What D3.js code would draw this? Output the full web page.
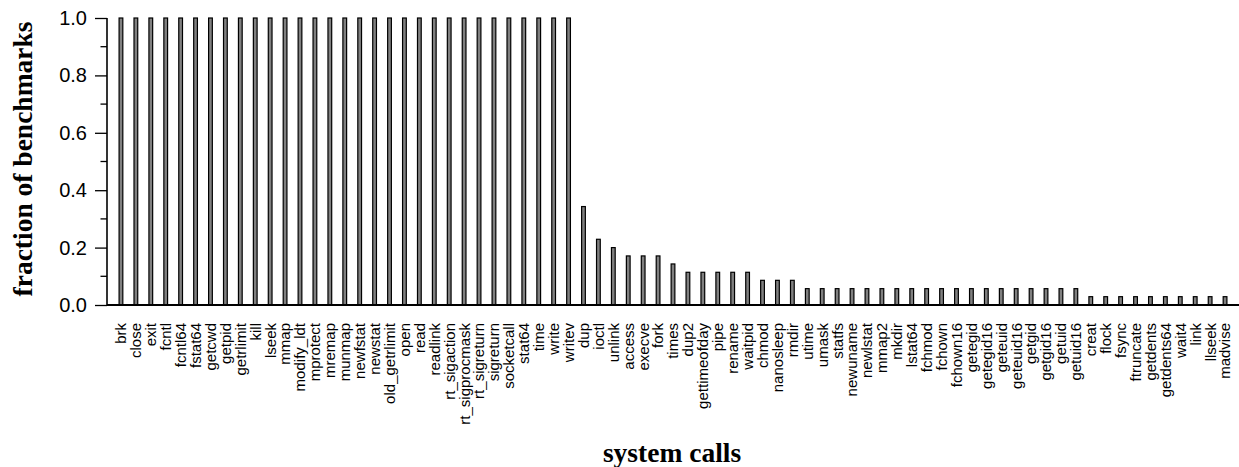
<!DOCTYPE html>
<html>
<head>
<meta charset="utf-8">
<script src="https://cdn.jsdelivr.net/npm/d3@7"></script>
<style>
  body { margin: 0; background: #fff; }
  svg { display: block; }
</style>
</head>
<body>
<svg id="chart" width="1239" height="467"></svg>
<script>

// system call names, in the order they are plotted
var calls = ["brk", "close", "exit", "fcntl", "fcntl64", "fstat64", "getcwd", "getpid",
  "getrlimit", "kill", "lseek", "mmap", "modify_ldt", "mprotect", "mremap", "munmap",
  "newfstat", "newstat", "old_getrlimit", "open", "read", "readlink", "rt_sigaction",
  "rt_sigprocmask", "rt_sigreturn", "sigreturn", "socketcall", "stat64", "time", "write",
  "writev", "dup", "ioctl", "unlink", "access", "execve", "fork", "times", "dup2",
  "gettimeofday", "pipe", "rename", "waitpid", "chmod", "nanosleep", "rmdir", "utime",
  "umask", "statfs", "newuname", "newlstat", "mmap2", "mkdir", "lstat64", "fchmod",
  "fchown", "fchown16", "getegid", "getegid16", "geteuid", "geteuid16", "getgid",
  "getgid16", "getuid", "getuid16", "creat", "flock", "fsync", "ftruncate", "getdents",
  "getdents64", "wait4", "link", "llseek", "madvise"];

// fraction of benchmarks using each call
var fractions = [1, 1, 1, 1, 1, 1, 1, 1, 1, 1, 1, 1, 1, 1, 1, 1,
  1, 1, 1, 1, 1, 1, 1, 1, 1, 1, 1, 1, 1, 1,
  1, 0.343, 0.229, 0.2, 0.171, 0.171, 0.171, 0.143, 0.114,
  0.114, 0.114, 0.114, 0.114, 0.086, 0.086, 0.086, 0.057,
  0.057, 0.057, 0.057, 0.057, 0.057, 0.057, 0.057, 0.057,
  0.057, 0.057, 0.057, 0.057, 0.057, 0.057, 0.057,
  0.057, 0.057, 0.057, 0.029, 0.029, 0.029, 0.029, 0.029,
  0.029, 0.029, 0.029, 0.029, 0.029];

var yMajorTicks = [0, 0.2, 0.4, 0.6, 0.8, 1.0];
var yMinorTicks = [0.1, 0.3, 0.5, 0.7, 0.9];

var data = calls.map(function(c, i) { return {call: c, frac: fractions[i]}; });

var svg = d3.select("#chart"),
    plotLeft = 107, plotRight = 1239, plotTop = 18, plotBottom = 305;

var x = d3.scaleBand()
    .domain(calls)
    .range([plotLeft, plotRight])
    .paddingInner(0.75)
    .paddingOuter(0.81);

var y = d3.scaleLinear()
    .domain([0, 1])
    .range([plotBottom, plotTop]);

// bars
svg.append("g")
  .selectAll("rect")
  .data(data)
  .enter().append("rect")
    .attr("x", function(d) { return x(d.call); })
    .attr("y", function(d) { return y(d.frac); })
    .attr("width", x.bandwidth())
    .attr("height", function(d) { return plotBottom - y(d.frac); })
    .attr("fill", "#808080")
    .attr("stroke", "#000")
    .attr("stroke-width", 1.2);

// y axis with major ticks + labels
var yAxis = svg.append("g")
    .attr("transform", "translate(" + plotLeft + ",0)")
    .call(d3.axisLeft(y)
      .tickValues(yMajorTicks)
      .tickFormat(d3.format(".1f"))
      .tickSize(12)
      .tickPadding(8));
yAxis.select(".domain").attr("stroke-width", 1.6).attr("d", "M0," + plotTop + "V" + plotBottom);
yAxis.selectAll(".tick line").attr("stroke-width", 1.3);
yAxis.selectAll("text")
    .attr("font-family", "'Liberation Sans', Arial, sans-serif")
    .attr("font-size", 20)
    .attr("fill", "#000");

// minor ticks
svg.append("g")
  .selectAll("line")
  .data(yMinorTicks)
  .enter().append("line")
    .attr("x1", plotLeft - 6.5)
    .attr("x2", plotLeft)
    .attr("y1", function(d) { return y(d); })
    .attr("y2", function(d) { return y(d); })
    .attr("stroke", "#000")
    .attr("stroke-width", 1.3);

// x axis: baseline and rotated call names
var xAxis = svg.append("g")
    .attr("transform", "translate(0," + plotBottom + ")")
    .call(d3.axisBottom(x).tickSize(0).tickPadding(0));
xAxis.select(".domain").attr("stroke-width", 2).attr("d", "M" + plotLeft + ",0H" + plotRight);
xAxis.selectAll("text")
    .attr("font-family", "'Liberation Sans', Arial, sans-serif")
    .attr("font-size", 15)
    .attr("fill", "#000")
    .attr("text-anchor", "end")
    .attr("transform", "rotate(-90)")
    .attr("x", -18)
    .attr("y", 0)
    .attr("dy", "0.36em");

// axis titles
svg.append("text")
    .attr("transform", "translate(32,159) rotate(-90)")
    .attr("text-anchor", "middle")
    .attr("font-family", "'Liberation Serif', 'Times New Roman', serif")
    .attr("font-weight", "bold")
    .attr("font-size", 27.5)
    .text("fraction of benchmarks");

svg.append("text")
    .attr("x", 672)
    .attr("y", 462)
    .attr("text-anchor", "middle")
    .attr("font-family", "'Liberation Serif', 'Times New Roman', serif")
    .attr("font-weight", "bold")
    .attr("font-size", 27.5)
    .text("system calls");

</script>
</body>
</html>
